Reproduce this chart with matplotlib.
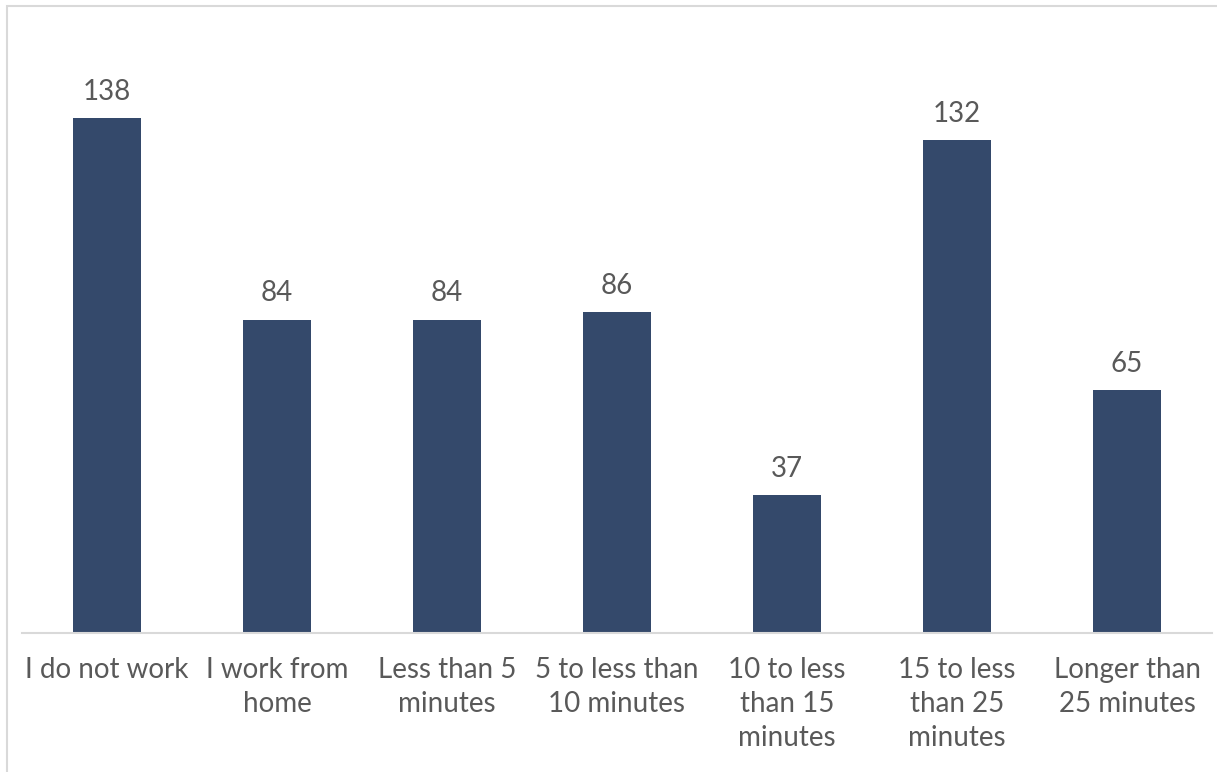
import matplotlib
matplotlib.use("Agg")
import matplotlib.pyplot as plt
from matplotlib.patches import Rectangle

categories = [
    "I do not work",
    "I work from\nhome",
    "Less than 5\nminutes",
    "5 to less than\n10 minutes",
    "10 to less\nthan 15\nminutes",
    "15 to less\nthan 25\nminutes",
    "Longer than\n25 minutes",
]
counts = [138, 84, 84, 86, 37, 132, 65]

BAR = "#34496b"
TEXT = "#595959"
GRID = "#d9d9d9"


def main():
    plt.rcParams["font.family"] = ["Lato", "DejaVu Sans"]
    fig = plt.figure(figsize=(12.17, 7.72), dpi=100)
    W, H = 1217, 772
    # axes: x 22..1212 px, baseline at y=633
    ax = fig.add_axes([22 / W, 1 - 633 / H, 1190 / W, (633 - 36) / H])

    # outer chart frame (runs off the right and bottom)
    fig.patches.append(Rectangle((7 / W, -0.05), 1.2, 1 - 6 / H + 0.05,
                                 transform=fig.transFigure, fill=False,
                                 edgecolor=GRID, linewidth=1.5))

    xs = range(len(categories))
    bars = ax.bar(xs, counts, width=0.4, color=BAR, zorder=2)
    for b, v in zip(bars, counts):
        ax.text(b.get_x() + b.get_width() / 2, v + 3.6, str(v),
                ha="center", va="bottom", color=TEXT, fontsize=20)

    ax.set_xlim(-0.5, len(categories) - 0.5)
    ax.set_ylim(0, 160)
    ax.set_xticks(list(xs))
    ax.set_xticklabels(categories, color=TEXT, fontsize=20, linespacing=1.4)
    ax.tick_params(axis="x", length=0, pad=17)
    ax.set_yticks([])
    for s in ("top", "right", "left"):
        ax.spines[s].set_visible(False)
    ax.spines["bottom"].set_color(GRID)
    ax.spines["bottom"].set_linewidth(1.5)
    ax.patch.set_alpha(0)

    fig.savefig("out.png", dpi=100)


if __name__ == "__main__":
    main()
